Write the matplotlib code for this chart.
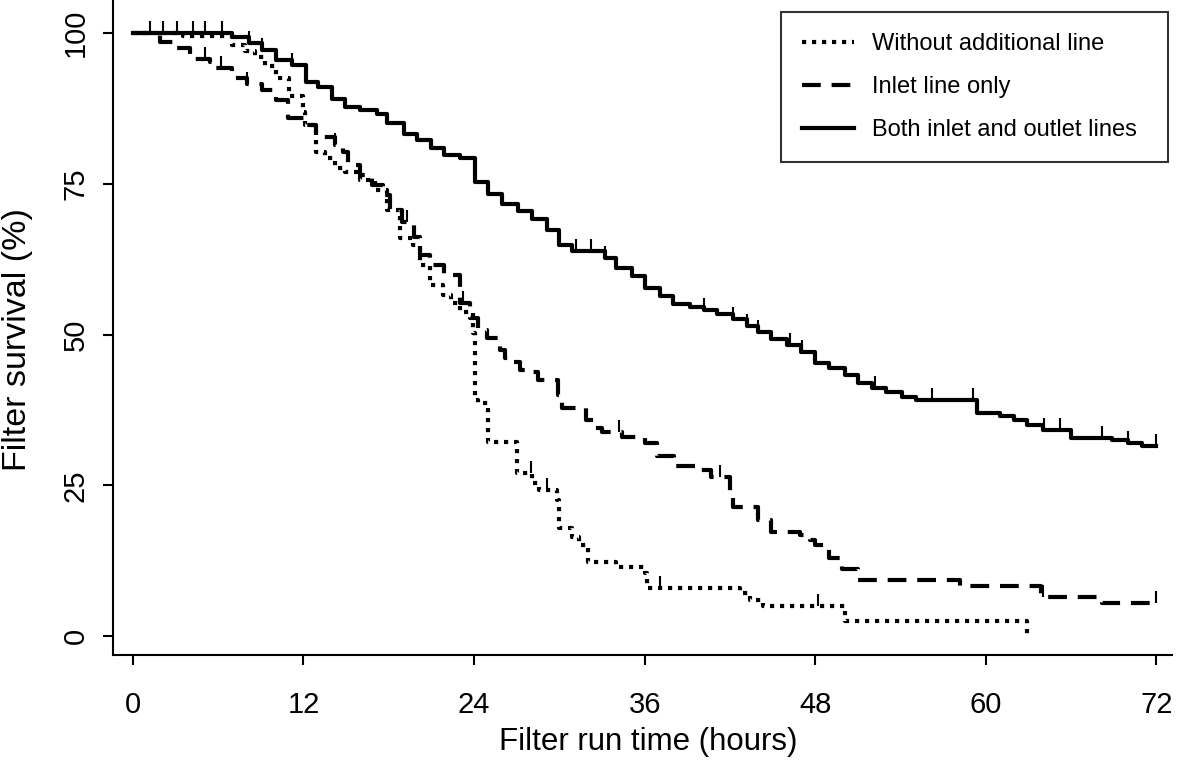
import numpy as np
import matplotlib.pyplot as plt

plt.rcParams['font.family'] = ['Liberation Sans', 'DejaVu Sans']

# --- datos (tiempo en horas, supervivencia en %) ---
# sin linea adicional
t_sin = [0, 3.5, 7.0, 7.9, 8.6, 9.3, 10.1, 11.0, 12.0, 12.1, 12.9, 13.5, 14.2, 14.9,
         16.0, 17.0, 17.9, 18.8, 19.7, 20.2, 20.9, 21.8, 22.4, 23.0, 23.9, 24.05,
         24.3, 25.0, 27.0, 28.1, 28.6, 29.8, 30.0, 30.9, 31.4, 32.0, 34.0, 36.0,
         36.2, 42.7, 43.4, 44.3, 50.1, 62.9]
s_sin = [100, 99.5, 98.0, 97.0, 96.0, 94.5, 92.5, 89.5, 87.0, 84.7, 80.3, 79.3, 77.6, 77.0,
         75.6, 74.0, 70.6, 66.0, 64.8, 61.5, 58.2, 56.5, 55.2, 53.7, 50.2, 39.1,
         38.6, 32.2, 27.0, 25.4, 24.2, 22.6, 17.9, 16.4, 15.1, 12.3, 11.4, 10.4,
         8.0, 7.1, 6.0, 5.0, 2.5, 0.0]
c_sin = [28.0, 29.1, 37.1, 48.2]

# solo linea de entrada
t_ent = [0, 1.9, 3.0, 4.0, 5.4, 5.8, 7.0, 8.0, 9.1, 10.1, 10.9, 12.1, 12.9, 14.2,
         14.8, 15.1, 16.0, 16.8, 17.6, 18.1, 18.9, 19.8, 20.2, 20.9, 21.9, 23.0,
         23.7, 24.3, 24.9, 25.8, 26.2, 26.7, 27.2, 27.9, 28.5, 29.9, 30.2, 31.9,
         32.5, 33.0, 34.4, 36.0, 36.9, 38.1, 39.9, 40.7, 42.0, 42.2, 44.0, 44.9,
         46.9, 47.6, 48.0, 49.0, 49.9, 51.0, 58.2, 63.9, 68.2, 72.0]
s_ent = [100, 98.5, 97.5, 95.7, 95.2, 94.2, 92.5, 91.5, 90.5, 88.9, 85.9, 84.7, 82.8, 81.4,
         80.3, 78.1, 76.5, 74.8, 73.1, 70.6, 68.7, 66.2, 63.2, 61.5, 59.9, 55.2,
         52.7, 50.7, 49.4, 47.4, 46.1, 45.4, 44.1, 43.8, 42.5, 40.0, 37.8, 35.8,
         34.5, 33.8, 33.0, 32.0, 29.9, 28.2, 27.5, 26.4, 23.7, 21.4, 19.2, 17.2,
         16.7, 15.9, 15.1, 12.9, 11.1, 9.3, 8.3, 6.5, 5.5, 5.5]
c_ent = [5.1, 6.2, 8.0, 14.2, 19.3, 23.2, 34.2, 41.3, 64.0, 72.0]

# entrada y salida
t_amb = [0, 7.0, 8.2, 9.1, 10.1, 11.2, 12.2, 13.0, 14.0, 14.9, 16.0, 17.2, 17.9,
         19.1, 20.0, 21.0, 21.9, 23.0, 24.05, 25.0, 26.0, 27.1, 28.1, 29.1, 30.0,
         30.9, 33.2, 34.0, 35.1, 36.0, 37.1, 38.0, 39.2, 40.2, 41.1, 42.2, 43.2,
         44.0, 44.9, 46.0, 47.0, 48.0, 49.0, 50.1, 51.0, 52.0, 53.0, 54.1, 55.1,
         59.4, 61.0, 62.0, 62.9, 64.0, 66.0, 68.9, 70.0, 71.0, 72.0]
s_amb = [100, 99.3, 98.3, 97.2, 95.5, 94.7, 91.9, 91.0, 89.1, 87.7, 87.2, 86.6, 85.1,
         83.2, 82.3, 80.9, 79.8, 79.3, 75.3, 73.3, 71.6, 70.5, 69.2, 67.3, 64.8,
         63.8, 62.7, 61.0, 59.7, 57.7, 56.4, 55.1, 54.6, 54.1, 53.4, 52.6, 51.4,
         50.4, 49.3, 48.3, 47.1, 45.3, 44.4, 43.3, 42.0, 41.1, 40.5, 39.6, 39.1,
         37.0, 36.5, 35.8, 35.0, 34.2, 32.8, 32.5, 32.0, 31.5, 31.5]
c_amb = [1.2, 2.1, 3.1, 4.2, 5.1, 6.3, 8.2, 9.1, 11.2, 31.2, 32.2, 33.2, 40.2, 42.2,
         43.2, 44.0, 46.2, 47.1, 52.2, 56.2, 59.1, 64.1, 65.2, 68.2, 70.0, 72.0]

etiquetas = ['Without additional line', 'Inlet line only', 'Both inlet and outlet lines']


def valor_en(t, s, tc):
    # valor de la curva escalonada en los tiempos censurados
    idx = np.searchsorted(np.asarray(t), np.asarray(tc), side='right') - 1
    return np.asarray(s)[idx]


fig = plt.figure(figsize=(11.81, 7.62), dpi=100)
ax = fig.add_axes([113 / 1181, 107 / 762, (1172 - 113) / 1181, 655 / 762])

estilos = [
    dict(linestyle=(0, (1.0, 1.4)), dash_capstyle='butt'),
    dict(linestyle=(0, (4.5, 2.6)), dash_capstyle='butt'),
    dict(linestyle='-'),
]
curvas = [(t_sin, s_sin, c_sin), (t_ent, s_ent, c_ent), (t_amb, s_amb, c_amb)]

for (t, s, tc), est, lab in zip(curvas, estilos, etiquetas):
    ax.step(t, s, where='post', color='black', linewidth=3, label=lab, **est)
    yc = valor_en(t, s, tc)
    ax.vlines(tc, yc, yc + 2.0, color='black', linewidth=1.5)

ax.set_xlim(-1.4, 73.1)
ax.set_ylim(-3.15, 105.5)
ax.set_xticks(np.arange(0, 73, 12))
ax.set_yticks([0, 25, 50, 75, 100])
for lado in ['top', 'right']:
    ax.spines[lado].set_visible(False)
for lado in ['left', 'bottom']:
    ax.spines[lado].set_linewidth(1.5)
ax.tick_params(direction='out', length=7, width=1.5, labelsize=21)
ax.tick_params(axis='x', pad=19)
ax.tick_params(axis='y', pad=10)
plt.setp(ax.get_yticklabels(), rotation=90, va='center')

ax.set_xlabel('Filter run time (hours)', fontsize=22.5)
ax.set_ylabel('Filter survival (%)', fontsize=24.5)
ax.xaxis.set_label_coords(0.505, -0.11)
ax.yaxis.set_label_coords(-0.076, 0.481)

leg = ax.legend(loc='upper left',
                bbox_to_anchor=(781 / 1181, 1 - 157 / 762, 387 / 1181, 145 / 762),
                bbox_transform=fig.transFigure, mode='expand', fontsize=17,
                frameon=True, fancybox=False, edgecolor='black', handlelength=2.2,
                handletextpad=0.75, labelspacing=0.88, borderpad=0.9,
                borderaxespad=0)
leg.get_frame().set_linewidth(1.5)

fig.savefig('out.png', dpi=100)
